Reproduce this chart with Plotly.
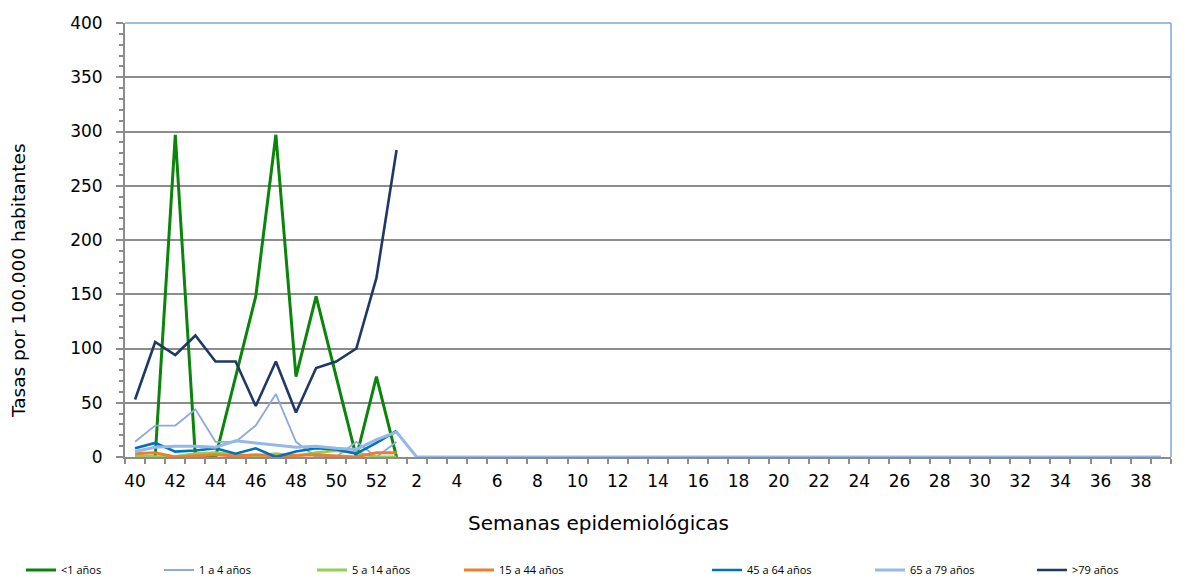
import plotly.graph_objects as go

weeks = ["40", "41", "42", "43", "44", "45", "46", "47", "48", "49", "50", "51", "52",
         "1", "2", "3", "4", "5", "6", "7", "8", "9", "10", "11", "12", "13", "14", "15",
         "16", "17", "18", "19", "20", "21", "22", "23", "24", "25", "26", "27", "28",
         "29", "30", "31", "32", "33", "34", "35", "36", "37", "38", "39"]

s_lt1 = [0, 0, 297, 0, 0, 74, 148, 297, 74, 148, 74, 0, 74, 0]
s_1_4 = [14, 29, 29, 44, 14, 14, 29, 58, 14, 0, 0, 14, 0, 14]
s_5_14 = [0, 0.5, 0.5, 3, 4, 2, 1, 3, 1, 4, 6, 4, 0, 0]
s_15_44 = [3, 4, 0, 1, 2, 1, 2, 1, 1.5, 2, 1, 0, 4, 4]
s_45_64 = [8, 13, 5, 6, 8, 3, 8, 0, 5, 8, 7, 3, 13, 24]
s_65_79 = [5, 9, 10, 10, 9, 15, 13, 11, 9, 10, 8, 7, 16, 23,
           0, 0, 0, 0, 0, 0, 0, 0, 0, 0, 0, 0, 0, 0, 0, 0, 0, 0, 0,
           0, 0, 0, 0, 0, 0, 0, 0, 0, 0, 0, 0, 0, 0, 0, 0, 0, 0, 0]
s_gt79 = [53, 106, 94, 112, 88, 88, 47, 88, 41, 82, 88, 100, 165, 283]

series = [
    ("<1 años", s_lt1, "#0a850a", 3),
    ("1 a 4 años", s_1_4, "#8eaadb", 1.8),
    ("5 a 14 años", s_5_14, "#92d050", 3),
    ("15 a 44 años", s_15_44, "#ed7d31", 3),
    ("45 a 64 años", s_45_64, "#0070c0", 2.6),
    ("65 a 79 años", s_65_79, "#95b9e6", 3),
    (">79 años", s_gt79, "#1f3864", 2.6),
]

# legend text-start positions in px (from reference)
legend_text_px = [62, 200, 353, 500, 748, 911, 1073]

L, R, T, B = 125, 25, 23, 121
W, H = 1196, 578
pw = W - L - R
ph = H - T - B

FONT = "DejaVu Sans"

fig = go.Figure()
layout_legends = {}
for i, (name, vals, color, width) in enumerate(series):
    lg = "legend" if i == 0 else f"legend{i+1}"
    fig.add_trace(go.Scatter(
        x=[weeks.index(w) for w in weeks[:len(vals)]],
        y=vals, mode="lines", name=name,
        line=dict(color=color, width=width),
        legend=lg, showlegend=True,
    ))
    layout_legends[lg] = dict(
        x=(legend_text_px[i] - 41 - L) / pw, xanchor="left",
        y=(H - B - 570) / ph, yanchor="middle",
        orientation="h", bgcolor="rgba(0,0,0,0)",
        font=dict(family="Open Sans", size=11, color="#000"),
        visible=True,
    )

gray = "#8c8c8c"
fig.update_layout(
    width=W, height=H,
    margin=dict(l=L, r=R, t=T, b=B, autoexpand=False),
    paper_bgcolor="white", plot_bgcolor="white",
    font=dict(family=FONT, color="#000"),
    **layout_legends,
)

fig.update_xaxes(
    range=[-0.5, len(weeks) - 0.5],
    tickmode="array",
    tickvals=list(range(0, len(weeks), 2)),
    ticktext=weeks[::2],
    ticks="", showgrid=False, zeroline=False,
    showline=True, linecolor=gray, linewidth=2,
    tickfont=dict(family=FONT, size=17, color="#000"),
    ticklabelstandoff=8,
    minor=dict(tick0=-0.5, dtick=1, ticks="outside", ticklen=5, tickcolor=gray, tickwidth=1.5, showgrid=False),
)
fig.update_yaxes(
    range=[0, 400], dtick=50,
    ticks="outside", ticklen=7, tickcolor=gray, tickwidth=1.5,
    showgrid=True, gridcolor=gray, gridwidth=2,
    zeroline=False, showline=True, linecolor=gray, linewidth=2,
    tickfont=dict(family=FONT, size=17, color="#000"),
    ticklabelstandoff=10,
    minor=dict(dtick=10, ticks="outside", ticklen=4, tickcolor=gray, tickwidth=1.5, showgrid=False),
)

# plot-area border (top and right)
fig.add_shape(type="line", xref="paper", yref="paper", x0=0, x1=1, y0=1, y1=1,
              line=dict(color="#7fa7d9", width=1.5), layer="above")
fig.add_shape(type="line", xref="paper", yref="paper", x0=1, x1=1, y0=0, y1=1,
              line=dict(color="#7fa7d9", width=1.5), layer="above")

fig.add_annotation(text="Semanas epidemiológicas", xref="paper", yref="paper",
                   x=(598 - L) / pw, y=(H - B - 523) / ph, xanchor="center", yanchor="middle",
                   showarrow=False, font=dict(family=FONT, size=20, color="#000"))
fig.add_annotation(text="Tasas por 100.000 habitantes", xref="paper", yref="paper",
                   x=(18 - L) / pw, y=(H - B - 281) / ph, xanchor="center", yanchor="middle",
                   textangle=-90, showarrow=False,
                   font=dict(family=FONT, size=18.5, color="#000"))

fig.write_html("out.html",
               config={"displayModeBar": False},
               post_script="document.body.style.margin='0';document.body.style.overflow='hidden';")
